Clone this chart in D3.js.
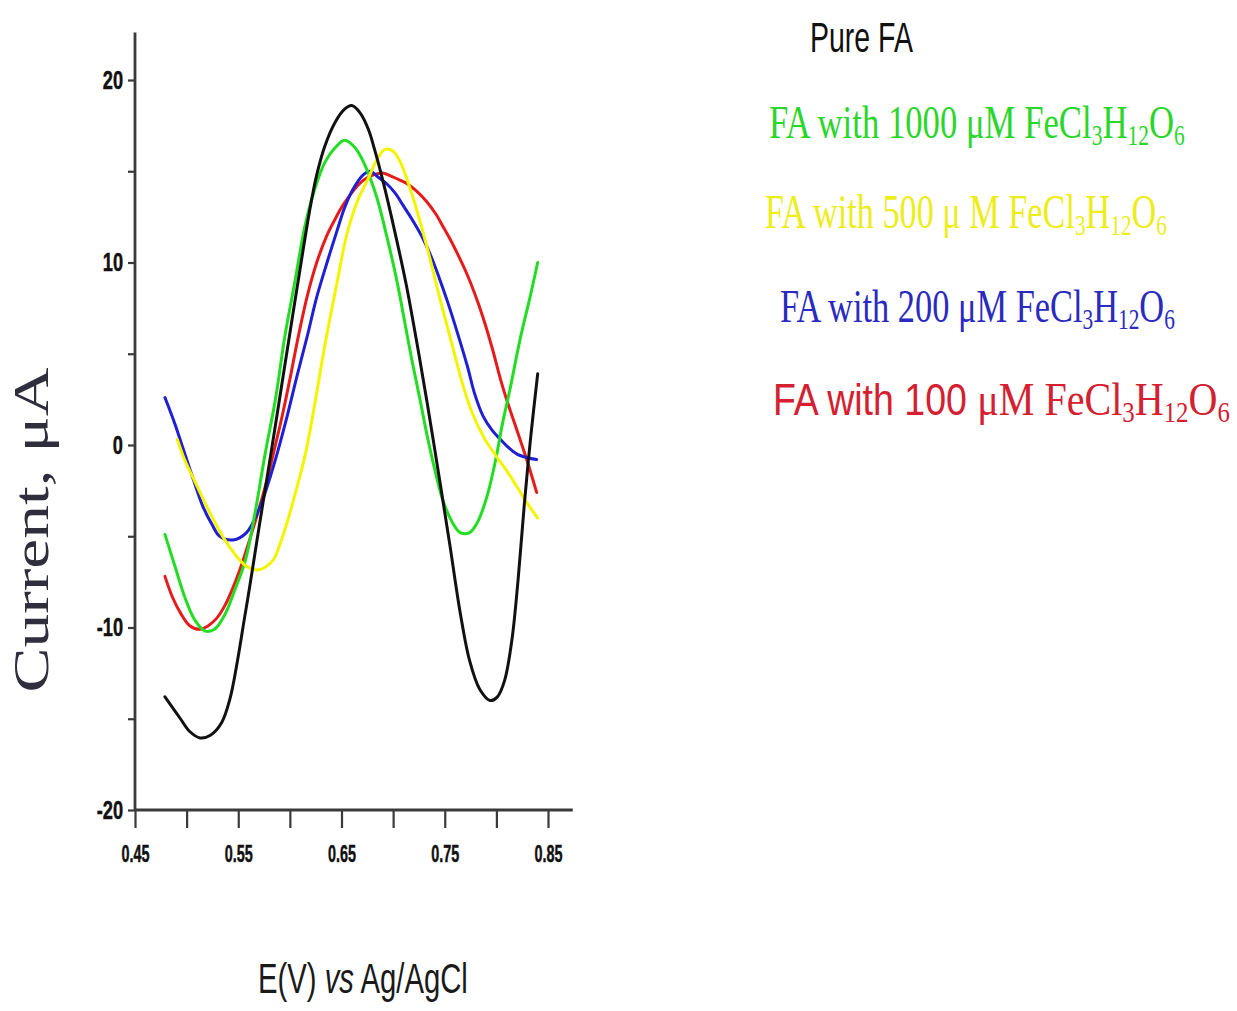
<!DOCTYPE html>
<html>
<head>
<meta charset="utf-8">
<script src="https://cdn.jsdelivr.net/npm/d3@7"></script>
<style>
  html, body { margin: 0; padding: 0; background: #ffffff; }
  svg { display: block; }
</style>
</head>
<body>
<svg id="chart" width="1237" height="1011"></svg>
<script>
// Differential pulse voltammograms of folic acid (FA) with FeCl3·6H2O additions.
// Potential in V vs Ag/AgCl, current in µA.

const potentialPure = [0.479, 0.494, 0.503, 0.513, 0.523, 0.534, 0.542, 0.549, 0.556, 0.561,
  0.566, 0.571, 0.581, 0.593, 0.603, 0.612, 0.619, 0.626, 0.634, 0.644, 0.653, 0.660, 0.668,
  0.676, 0.682, 0.690, 0.702, 0.713, 0.723, 0.733, 0.745, 0.755, 0.765, 0.774, 0.784, 0.794,
  0.801, 0.808, 0.815, 0.821, 0.827, 0.833, 0.840];
const currentPure = [-13.8, -15.0, -15.7, -16.05, -15.9, -15.2, -13.9, -11.9, -9.5, -7.8,
  -6.0, -4.2, -0.7, 3.6, 7.2, 10.4, 12.8, 14.8, 16.4, 17.7, 18.4, 18.6, 18.2,
  17.3, 16.2, 14.5, 11.6, 8.7, 5.6, 2.3, -1.9, -5.5, -9.2, -11.8, -13.4, -14.0,
  -13.8, -12.9, -10.7, -7.4, -3.3, 0.3, 3.9];

const potential1000 = [0.479, 0.489, 0.498, 0.508, 0.518, 0.527, 0.537, 0.547, 0.557, 0.566,
  0.576, 0.586, 0.595, 0.605, 0.615, 0.624, 0.634, 0.644, 0.653, 0.663, 0.673, 0.684, 0.694,
  0.704, 0.712, 0.718, 0.726, 0.733, 0.741, 0.748, 0.757, 0.765, 0.774, 0.782, 0.791, 0.799,
  0.806, 0.813, 0.823, 0.833, 0.840];
const current1000 = [-4.9, -6.7, -8.3, -9.6, -10.2, -10.1, -9.3, -7.9, -6.3, -3.8,
  -0.5, 2.5, 5.9, 9.0, 12.1, 14.0, 15.5, 16.3, 16.7, 16.3, 15.3, 13.6, 11.4,
  8.9, 6.5, 4.7, 2.5, 0.5, -1.5, -3.0, -4.2, -4.8, -4.8, -4.2, -2.8, -0.9,
  1.2, 3.0, 5.8, 8.2, 10.0];

const potential500 = [0.491, 0.498, 0.508, 0.518, 0.527, 0.537, 0.547, 0.557, 0.568, 0.576,
  0.584, 0.590, 0.597, 0.605, 0.615, 0.624, 0.634, 0.646, 0.655, 0.665, 0.675, 0.684, 0.692,
  0.700, 0.707, 0.719, 0.733, 0.745, 0.758, 0.768, 0.777, 0.789, 0.801, 0.810, 0.820, 0.830,
  0.840];
const current500 = [0.3, -0.8, -2.0, -3.2, -4.2, -5.2, -6.0, -6.6, -6.85, -6.7,
  -6.3, -5.5, -4.3, -2.7, -0.5, 2.2, 5.5, 9.0, 11.5, 13.3, 14.5, 15.6, 16.2,
  16.1, 15.5, 13.6, 10.8, 8.1, 5.3, 3.2, 1.7, 0.3, -0.7, -1.4, -2.3, -3.2,
  -4.0];

const potential200 = [0.479, 0.489, 0.496, 0.506, 0.516, 0.525, 0.532, 0.545, 0.558, 0.571,
  0.579, 0.588, 0.597, 0.607, 0.617, 0.626, 0.636, 0.646, 0.653, 0.661, 0.671, 0.678, 0.685,
  0.694, 0.702, 0.710, 0.719, 0.729, 0.737, 0.745, 0.753, 0.762, 0.772, 0.779, 0.787, 0.796,
  0.804, 0.811, 0.820, 0.830, 0.839];
const current200 = [2.6, 1.1, -0.1, -1.8, -3.4, -4.4, -5.0, -5.2, -4.8, -3.4,
  -2.1, -0.4, 1.5, 3.8, 6.0, 8.1, 10.0, 11.8, 13.0, 14.0, 14.8, 15.0, 14.7,
  14.3, 13.8, 13.1, 12.3, 11.3, 10.3, 9.1, 7.8, 6.2, 4.3, 2.8, 1.6, 0.8,
  0.3, -0.1, -0.5, -0.7, -0.8];

const potential100 = [0.479, 0.486, 0.494, 0.503, 0.513, 0.521, 0.529, 0.537, 0.545, 0.553,
  0.561, 0.569, 0.578, 0.586, 0.593, 0.600, 0.608, 0.617, 0.626, 0.636, 0.644, 0.651, 0.661,
  0.671, 0.681, 0.690, 0.699, 0.707, 0.714, 0.723, 0.733, 0.742, 0.749, 0.755, 0.763, 0.772,
  0.779, 0.787, 0.796, 0.804, 0.811, 0.820, 0.830, 0.839];
const current100 = [-7.2, -8.3, -9.2, -9.9, -10.1, -9.9, -9.5, -8.8, -7.8, -6.6,
  -5.2, -3.7, -1.9, 0.0, 1.7, 3.6, 5.9, 8.2, 10.0, 11.5, 12.4, 13.1, 13.9,
  14.5, 14.8, 14.9, 14.7, 14.5, 14.3, 13.9, 13.3, 12.6, 11.9, 11.3, 10.4, 9.3,
  8.3, 7.0, 5.3, 3.6, 2.3, 0.8, -0.9, -2.6];

// Axis ticks
const xTickValues = [0.45, 0.50, 0.55, 0.60, 0.65, 0.70, 0.75, 0.80, 0.85];
const xTickLabels = ["0.45", "", "0.55", "", "0.65", "", "0.75", "", "0.85"];
const yTickValues = [-20, -15, -10, -5, 0, 5, 10, 15, 20];
const yTickLabels = ["-20", "", "-10", "", "0", "", "10", "", "20"];

// Series in drawing order (back to front)
const seriesNames = ["100", "200", "1000", "500", "pure"];
const seriesColors = { "100": "#e61c1c", "200": "#1f1fd4", "1000": "#22dd22", "500": "#f4f400", "pure": "#111111" };
const seriesData = {
  "100": [potential100, current100],
  "200": [potential200, current200],
  "1000": [potential1000, current1000],
  "500": [potential500, current500],
  "pure": [potentialPure, currentPure]
};

const svg = d3.select("#chart");

const x = d3.scaleLinear().domain([0.45, 0.85]).range([135, 548]);
const y = d3.scaleLinear().domain([-20, 20]).range([810, 80]);
const xAxisEnd = 0.874;
const yAxisTop = 22.6;

// compress tick glyphs horizontally (condensed bold face)
function condense(sel, factor) {
  sel.each(function () {
    const w = this.getComputedTextLength();
    if (w > 0) {
      d3.select(this).attr("textLength", w * factor).attr("lengthAdjust", "spacingAndGlyphs");
    }
  });
}

// lay a text out at natural width inside its group, then squeeze the group to a box width
function fitLine(g, text, width) {
  const natural = text.node().getComputedTextLength();
  const sx = width / natural;
  const base = g.attr("transform");
  g.attr("transform", `${base} scale(${sx},1)`);
}

const axisColor = "#3a3a3a";

// x axis
const gx = svg.append("g").attr("transform", `translate(0,${y(-20)})`)
  .call(d3.axisBottom(x).tickValues(xTickValues).tickSize(18).tickPadding(17)
    .tickSizeOuter(0).tickFormat((d, i) => xTickLabels[i]));
gx.select(".domain").remove();
gx.selectAll(".tick line").attr("stroke", axisColor).attr("stroke-width", 2.2);
gx.selectAll(".tick text").attr("fill", "#111").attr("font-family", "'Liberation Sans', Arial, sans-serif")
  .attr("font-weight", "bold").attr("font-size", 24)
  .attr("stroke", "#111").attr("stroke-width", 0.5);
condense(gx.selectAll(".tick text"), 0.6);
gx.append("line").attr("x1", x(0.45)).attr("x2", x(xAxisEnd)).attr("y1", 0).attr("y2", 0)
  .attr("stroke", axisColor).attr("stroke-width", 2.8);

// y axis
const gy = svg.append("g").attr("transform", `translate(${x(0.45)},0)`)
  .call(d3.axisLeft(y).tickValues(yTickValues).tickSize(7).tickPadding(5)
    .tickSizeOuter(0).tickFormat((d, i) => yTickLabels[i]));
gy.select(".domain").remove();
gy.selectAll(".tick line").attr("stroke", axisColor).attr("stroke-width", 2.2);
gy.selectAll(".tick text").attr("fill", "#111").attr("font-family", "'Liberation Sans', Arial, sans-serif")
  .attr("font-weight", "bold").attr("font-size", 26)
  .attr("stroke", "#111").attr("stroke-width", 0.5);
condense(gy.selectAll(".tick text"), 0.7);
gy.append("line").attr("x1", 0).attr("x2", 0).attr("y1", y(yAxisTop)).attr("y2", y(-20))
  .attr("stroke", axisColor).attr("stroke-width", 2.8);

// curves
const line = d3.line().x(d => x(d[0])).y(d => y(d[1])).curve(d3.curveCatmullRom.alpha(0.5));
seriesNames.forEach(name => {
  const [pot, cur] = seriesData[name];
  const pts = pot.map((p, i) => [p, cur[i]]);
  svg.append("path").datum(pts).attr("d", line)
    .attr("fill", "none").attr("stroke", seriesColors[name])
    .attr("stroke-width", 3).attr("stroke-linejoin", "round").attr("stroke-linecap", "round");
});

// axis titles
svg.append("text")
  .attr("transform", "translate(48,530) rotate(-90)")
  .attr("text-anchor", "middle")
  .attr("font-family", "'Liberation Serif', 'Times New Roman', serif")
  .attr("font-size", 50)
  .attr("fill", "#2e2e3c")
  .attr("textLength", 325).attr("lengthAdjust", "spacingAndGlyphs")
  .text("Current, μA");

{
  const g = svg.append("g").attr("transform", "translate(258,993)");
  const xt = g.append("text")
    .attr("font-family", "'Liberation Sans', Arial, sans-serif")
    .attr("font-size", 43).attr("fill", "#1a1a1a");
  xt.append("tspan").text("E(V) ");
  xt.append("tspan").attr("font-style", "italic").text("vs");
  xt.append("tspan").text(" Ag/AgCl");
  fitLine(g, xt, 210);
}

// legend text
const serifFont = "'Liberation Serif', 'Times New Roman', serif";
const sansFont = "'Liberation Sans', Arial, sans-serif";

function formula(textSel, parts, size) {
  parts.forEach(p => {
    const t = textSel.append("tspan").text(p.t);
    if (p.font) t.attr("font-family", p.font);
    if (p.fs) t.attr("font-size", p.fs);
    if (p.sub) {
      t.attr("font-size", size * 0.62).attr("dy", size * 0.14);
    } else if (p.back) {
      t.attr("dy", -size * 0.14);
    }
  });
}

{
  const g = svg.append("g").attr("transform", "translate(810,52)");
  const t = g.append("text").attr("font-family", sansFont).attr("font-size", 42).attr("fill", "#111")
    .text("Pure FA");
  fitLine(g, t, 103);
}

const legendRows = [
  { x: 769, y: 138, w: 416, size: 47, color: "#2bd62b", lead: "FA with 1000 μM FeCl" },
  { x: 765, y: 228, w: 402, size: 48, color: "#eded1c", lead: "FA with 500 μ M FeCl" },
  { x: 780, y: 322, w: 395, size: 47, color: "#2a2ac0", lead: "FA with 200 μM FeCl" }
];
legendRows.forEach(r => {
  const g = svg.append("g").attr("transform", `translate(${r.x},${r.y})`);
  const t = g.append("text")
    .attr("font-family", serifFont).attr("font-size", r.size).attr("fill", r.color);
  formula(t, [
    { t: r.lead }, { t: "3", sub: true }, { t: "H", back: true },
    { t: "12", sub: true }, { t: "O", back: true }, { t: "6", sub: true }
  ], r.size);
  fitLine(g, t, r.w);
});

{
  const g = svg.append("g").attr("transform", "translate(773,415)");
  const t = g.append("text")
    .attr("font-family", serifFont).attr("font-size", 47).attr("fill", "#d42030");
  formula(t, [
    { t: "FA with 100 ", font: sansFont, fs: 44 }, { t: "μM FeCl" }, { t: "3", sub: true },
    { t: "H", back: true }, { t: "12", sub: true }, { t: "O", back: true }, { t: "6", sub: true }
  ], 47);
  fitLine(g, t, 457);
}
</script>
</body>
</html>
